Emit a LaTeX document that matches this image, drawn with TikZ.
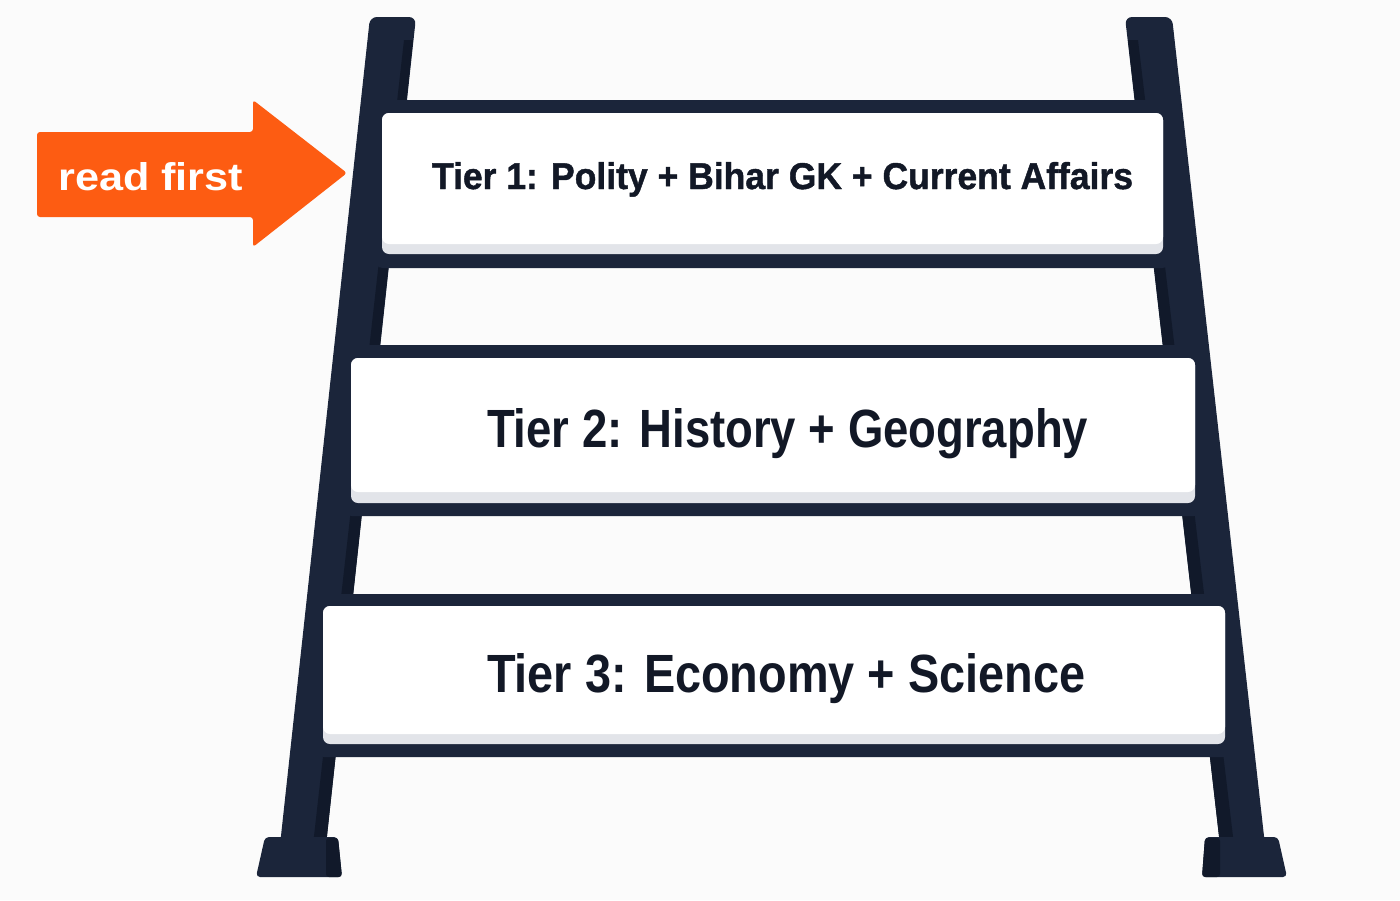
\documentclass[tikz,border=0pt]{standalone}
\usepackage{fontspec}
\usepackage{graphicx}
\newfontfamily\labfont{Liberation Sans}
\newfontfamily\labfontheavy{Liberation Sans}[BoldFeatures={FakeBold=1.2}]
\definecolor{bg}{RGB}{251,251,251}
\definecolor{navy}{RGB}{27,37,58}
\definecolor{navyd}{RGB}{17,25,42}
\definecolor{ink}{RGB}{18,24,38}
\definecolor{orng}{RGB}{253,92,18}
\definecolor{strip}{RGB}{226,228,233}
\tikzset{
  rail/.style={fill=navy},
  railshade/.style={fill=navyd},
  frame/.style={fill=navy, rounded corners=9pt},
  face/.style={fill=white, rounded corners=7pt},
  shadowstrip/.style={fill=strip, rounded corners=7pt},
  tiertext/.style={anchor=base west, inner sep=0pt, outer sep=0pt, text=ink},
  arrowshape/.style={fill=orng, rounded corners=3pt}
}
\begin{document}
\begin{tikzpicture}[x=1pt,y=-1pt]
\fill[bg] (0,0) rectangle (1400,900);
\useasboundingbox (0,0) rectangle (1400,900);
% rails
\fill[rail, rounded corners=7pt] (280,845) -- (370,17) -- (416,17) -- (326,845) -- cycle;
\fill[railshade] (313,845) -- (404,40) -- (413,40) -- (326,845) -- cycle;
\fill[rail, rounded corners=7pt] (1220,845) -- (1125,17) -- (1172,17) -- (1265,845) -- cycle;
\fill[railshade] (1220,845) -- (1128,40) -- (1138,40) -- (1234,845) -- cycle;
% feet
\fill[rail, rounded corners=4pt] (256,877) -- (265,837) -- (338,837) -- (342,877) -- cycle;
\fill[railshade, rounded corners=3pt] (326,877) -- (326,838) -- (338,838) -- (342,877) -- cycle;
\fill[rail, rounded corners=4pt] (1202,877) -- (1205,837) -- (1278,837) -- (1287,877) -- cycle;
\fill[railshade, rounded corners=3pt] (1202,877) -- (1205,838) -- (1220,838) -- (1220,877) -- cycle;
% rung 1
\fill[frame] (374,100) rectangle (1171,268);
\fill[shadowstrip] (382,113) rectangle (1163,254);
\fill[face] (382,113) rectangle (1163,244);
% rung 2
\fill[frame] (343,345) rectangle (1203,516);
\fill[shadowstrip] (351,358) rectangle (1195,503);
\fill[face] (351,358) rectangle (1195,492);
% rung 3
\fill[frame] (315,594) rectangle (1232,757);
\fill[shadowstrip] (323,606) rectangle (1225,744);
\fill[face] (323,606) rectangle (1225,734);
% texts
\node[tiertext] (t1) at (432,189) {\resizebox{701pt}{27pt}{\labfontheavy\bfseries Tier 1: Polity + Bihar GK + Current Affairs}};
\node[tiertext] (t2) at (487,447) {\resizebox{601pt}{39pt}{\labfont\bfseries Tier 2: History + Geography}};
\node[tiertext] (t3) at (487,692) {\resizebox{598pt}{39pt}{\labfont\bfseries Tier 3: Economy + Science}};
% arrow
\fill[arrowshape] (37,132) -- (253,132) -- (253,100) -- (347,173) -- (253,247) -- (253,217) -- (37,217) -- cycle;
\node[anchor=base west, inner sep=0pt, text=white] (rf) at (58,190) {\resizebox{185pt}{28pt}{\labfont\bfseries read first}};
\end{tikzpicture}
\end{document}
